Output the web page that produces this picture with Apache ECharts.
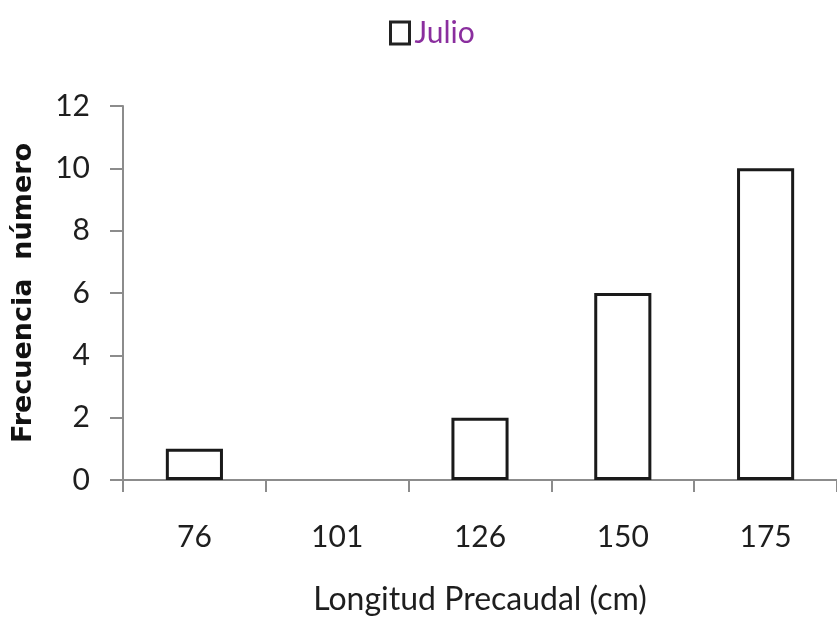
<!DOCTYPE html>
<html>
<head>
<meta charset="utf-8">
<script src="https://cdn.jsdelivr.net/npm/echarts@6/dist/echarts.min.js"></script>
<style>
  html, body { margin: 0; padding: 0; background: #fff; }
  #chart { width: 837px; height: 624px; }
</style>
</head>
<body>
<div id="chart"></div>
<script>
// Length classes (precaudal length, cm) and July frequency counts
const categories = ['76', '101', '126', '150', '175'];
const julioValues = [1, 0, 2, 6, 10];
const yTicks = [0, 2, 4, 6, 8, 10, 12];

const fontFamily = 'Lato, "Open Sans", sans-serif';
const axisGray = '#8c8c8c';
const textColor = '#1e1e1e';

// Empty classes get no outline, so a zero count leaves no mark on the axis
const barData = julioValues.map(v => ({
  value: v,
  itemStyle: v === 0 ? { borderWidth: 0, color: 'transparent' } : undefined
}));

const chart = echarts.init(document.getElementById('chart'), null, { renderer: 'canvas' });

chart.setOption({
  animation: false,
  backgroundColor: '#ffffff',
  legend: {
    data: ['Julio'],
    top: 13,
    left: 384,
    itemWidth: 19,
    itemHeight: 22,
    icon: 'rect',
    itemStyle: { color: '#ffffff', borderColor: '#222222', borderWidth: 3 },
    textStyle: { color: '#8a2e9e', fontSize: 30, fontFamily: fontFamily },
    selectedMode: false
  },
  grid: {
    left: 123,
    right: -7,
    top: 106,
    bottom: 144,
    containLabel: false
  },
  xAxis: {
    type: 'category',
    data: categories,
    name: 'Longitud Precaudal (cm)',
    nameLocation: 'middle',
    nameGap: 104,
    nameTextStyle: { color: textColor, fontSize: 32, fontFamily: fontFamily },
    axisLine: { lineStyle: { color: axisGray, width: 2 } },
    axisTick: { show: true, length: 12, alignWithLabel: false, lineStyle: { color: axisGray, width: 2 } },
    axisLabel: { color: textColor, fontSize: 30, fontFamily: fontFamily, margin: 42 },
    splitLine: { show: false }
  },
  yAxis: {
    type: 'value',
    min: yTicks[0],
    max: yTicks[yTicks.length - 1],
    interval: 2,
    name: 'Frecuencia  número',
    nameLocation: 'middle',
    nameGap: 86,
    nameRotate: 90,
    nameTextStyle: { color: '#111', fontSize: 27, fontWeight: 'bold', fontFamily: '"DejaVu Sans", sans-serif' },
    axisLine: { show: true, lineStyle: { color: axisGray, width: 2 } },
    axisTick: { show: true, length: 13, lineStyle: { color: axisGray, width: 2 } },
    axisLabel: { color: textColor, fontSize: 30, fontFamily: fontFamily, margin: 33 },
    splitLine: { show: false }
  },
  series: [{
    name: 'Julio',
    type: 'bar',
    data: barData,
    barWidth: '40%',
    itemStyle: { color: '#ffffff', borderColor: '#1a1a1a', borderWidth: 3 }
  }]
});
</script>
</body>
</html>
